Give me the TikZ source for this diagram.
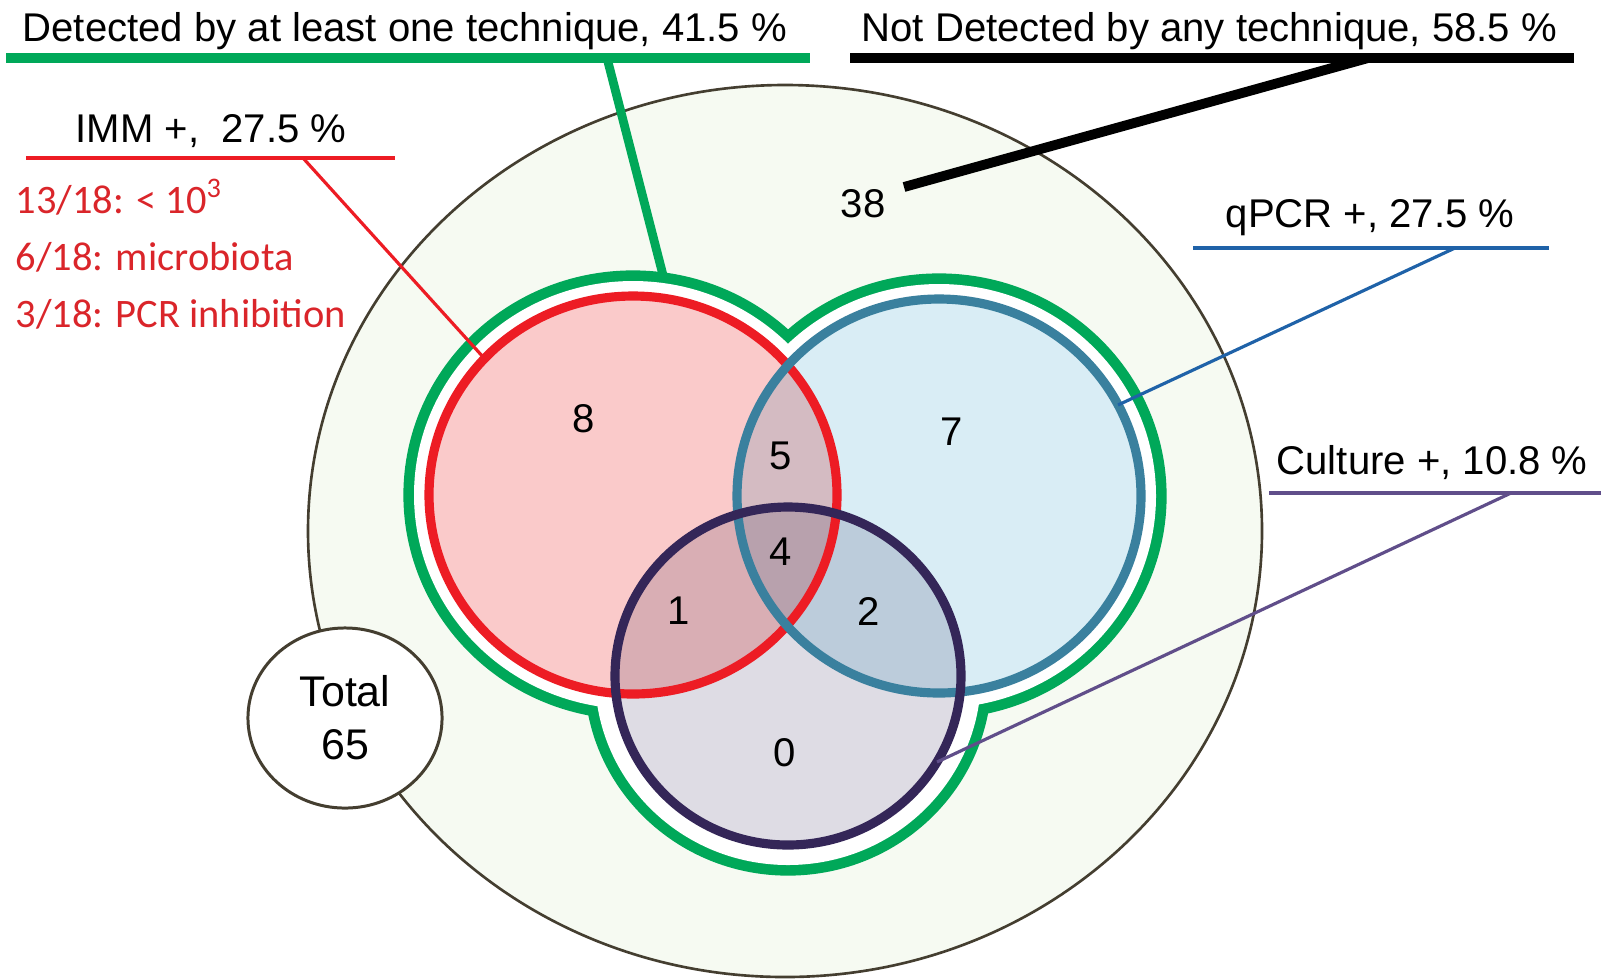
\documentclass[tikz,border=0pt]{standalone}
\usepackage{fontspec}
\setmainfont{Liberation Sans}
\newfontfamily\redface{Carlito}
\usepackage{xcolor}
\usetikzlibrary{positioning,calc,shapes.geometric}

\definecolor{detgreen}{RGB}{0,168,89}
\definecolor{popfill}{RGB}{246,250,242}
\definecolor{popline}{RGB}{68,62,48}
\definecolor{immred}{RGB}{237,28,36}
\definecolor{immfill}{RGB}{250,202,202}
\definecolor{immtext}{RGB}{218,37,42}
\definecolor{qpcrblue}{RGB}{58,128,158}
\definecolor{qpcrfill}{RGB}{217,237,245}
\definecolor{qpcrlink}{RGB}{31,98,168}
\definecolor{cultpurple}{RGB}{52,38,88}
\definecolor{cultfill}{RGB}{222,220,228}
\definecolor{cultlink}{RGB}{96,78,138}

\tikzset{
    lbl/.style={font=\fontsize{11.4}{14}\selectfont, inner sep=0pt},
    redtxt/.style={font=\redface\fontsize{11.5}{14}\selectfont, text=immtext, inner sep=0pt, anchor=base west},
    vennline/.style={line width=2.6pt},
}

\begin{document}
\begin{tikzpicture}[x=0.01cm, y=-0.01cm]
    \useasboundingbox (0,0) rectangle (1601,978);

    % Centres of the sets
    \coordinate (pop) at (785,531);
    \coordinate (imm) at (633,495);
    \coordinate (qpcr) at (939,496);
    \coordinate (cult) at (788,676);

    % Whole population
    \draw[popline, line width=0.75pt, fill=popfill] (pop) ellipse [x radius=477, y radius=446];

    % Detected by at least one technique (outline of the union)
    \foreach \c/\rx/\ry in {imm/224/219, qpcr/222/217, cult/198/194}
        \draw[detgreen, line width=3.2pt] (\c) ellipse [x radius=\rx, y radius=\ry];
    \foreach \c/\rx/\ry in {imm/219/214, qpcr/217/212, cult/193/189}
        \fill[white] (\c) ellipse [x radius=\rx, y radius=\ry];

    % Venn sets
    \fill[immfill, blend mode=multiply] (imm) ellipse [x radius=204, y radius=199];
    \fill[qpcrfill, blend mode=multiply] (qpcr) ellipse [x radius=202, y radius=197];
    \fill[cultfill, blend mode=multiply] (cult) ellipse [x radius=173, y radius=169];
    \draw[vennline, immred] (imm) ellipse [x radius=204, y radius=199];
    \draw[vennline, qpcrblue] (qpcr) ellipse [x radius=202, y radius=197];
    \draw[vennline, cultpurple] (cult) ellipse [x radius=173, y radius=169];

    % Counts
    \foreach \n/\p/\t in {n8/{(584,419)}/8, n5/{(781,456)}/5, n7/{(952,432)}/7,
                          n4/{(781,552)}/4, n1/{(679,611)}/1, n2/{(869,611)}/2,
                          n0/{(785,753)}/0, n38/{(863,204)}/38}
        \node[lbl] (\n) at \p {\t};

    % Total
    \node[ellipse, draw=popline, line width=0.85pt, fill=white, minimum width=1.94cm,
          minimum height=1.80cm, inner sep=0pt, align=center,
          font=\fontsize{12.2}{15}\selectfont] (total) at (345,718) {Total\\65};

    % Detected label
    \node[lbl, anchor=base west] (det) at (22,41) {Detected by at least one technique, 41.5 \%};
    \coordinate (det-l) at (6,58);
    \coordinate (det-r) at (810,58);
    \coordinate (det-k) at (607,58);
    \coordinate (det-hit) at (664,279);
    \draw[detgreen, line width=2.8pt] (det-l) -- (det-r);
    \draw[detgreen, line width=2.5pt] (det-k) -- (det-hit);

    % Not detected label
    \node[lbl, anchor=base west] (notdet) at (861,41) {Not Detected by any technique, 58.5 \%};
    \coordinate (notdet-l) at (850,58);
    \coordinate (notdet-r) at (1574,58);
    \coordinate (notdet-k) at (1368,58);
    \coordinate (notdet-end) at (904,187);
    \draw[black, line width=3pt] (notdet-l) -- (notdet-r);
    \draw[black, line width=2.8pt] (notdet-k) -- (notdet-end);

    % IMM label
    \node[lbl, anchor=base west] (immlbl) at (75,142) {IMM +, \ 27.5 \%};
    \coordinate (imm-l) at (26,158);
    \coordinate (imm-r) at (395,158);
    \coordinate (imm-k) at (303,158);
    \coordinate (imm-hit) at (484,358);
    \draw[immred, line width=1.1pt] (imm-l) -- (imm-r);
    \draw[immred, line width=0.9pt] (imm-k) -- (imm-hit);
    \node[redtxt] (imma) at (15,213) {13/18: < 10\textsuperscript{3}};
    \node[redtxt] (immb) at (15,270) {6/18: microbiota};
    \node[redtxt] (immc) at (15,327) {3/18: PCR inhibition};

    % qPCR label
    \node[lbl, anchor=base west] (qpcrlbl) at (1225,227) {qPCR +, 27.5 \%};
    \coordinate (qpcr-l) at (1193,248);
    \coordinate (qpcr-r) at (1549,248);
    \coordinate (qpcr-k) at (1455,248);
    \coordinate (qpcr-hit) at (1118,405);
    \draw[qpcrlink, line width=0.9pt] (qpcr-l) -- (qpcr-r);
    \draw[qpcrlink, line width=0.9pt] (qpcr-k) -- (qpcr-hit);

    % Culture label
    \node[lbl, anchor=base west] (cultlbl) at (1276,474) {Culture +, 10.8 \%};
    \coordinate (cult-l) at (1269,493);
    \coordinate (cult-r) at (1601,493);
    \coordinate (cult-k) at (1511,493);
    \coordinate (cult-hit) at (937,762);
    \draw[cultlink, line width=1pt] (cult-l) -- (cult-r);
    \draw[cultlink, line width=0.9pt] (cult-k) -- (cult-hit);
\end{tikzpicture}
\end{document}
